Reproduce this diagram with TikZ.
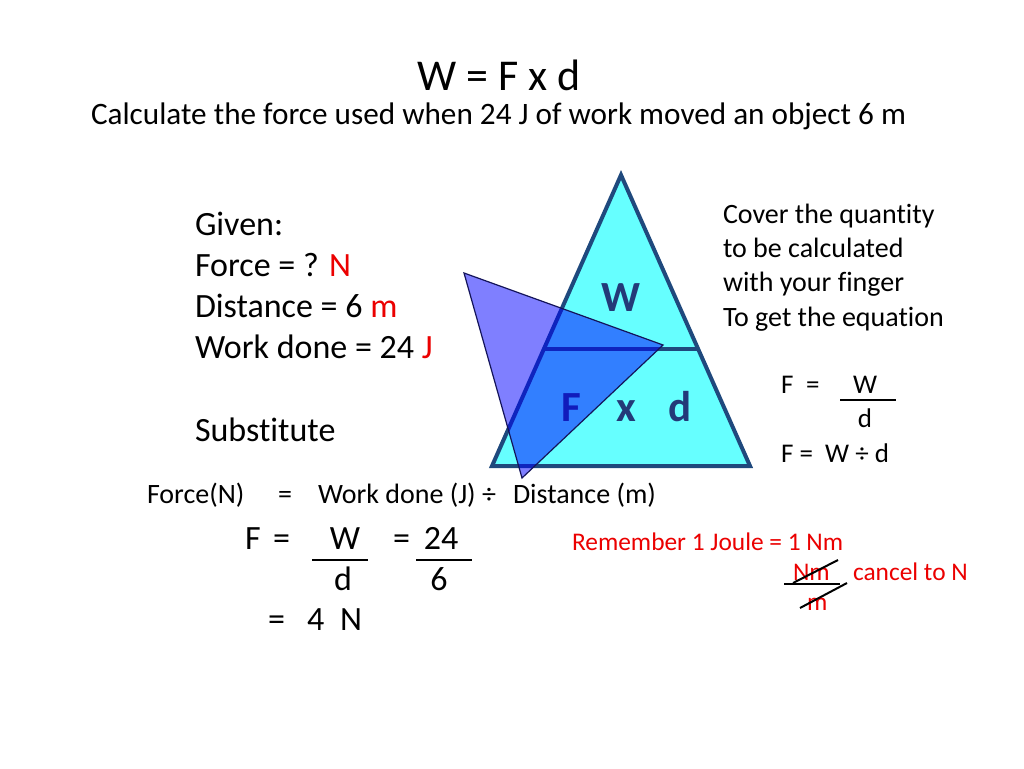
\documentclass[tikz,border=0pt]{standalone}
\usepackage{fontspec}
\setmainfont{Carlito}[Ligatures={NoCommon,NoContextual}]
\usetikzlibrary{calc}
\definecolor{tri}{RGB}{102,255,255}
\definecolor{edgec}{RGB}{31,73,125}
\definecolor{lett}{RGB}{35,58,120}
\definecolor{rd}{RGB}{235,0,0}
\definecolor{navyc}{RGB}{20,20,90}
\tikzset{
  txt/.style={inner sep=0pt, outer sep=0pt, anchor=base west},
  ctxt/.style={inner sep=0pt, outer sep=0pt, anchor=base},
  ttl/.style={ctxt, font=\fontsize{44}{52}\selectfont},
  sub/.style={txt, font=\fontsize{31.2}{38}\selectfont},
  big/.style={txt, font=\fontsize{34}{41}\selectfont},
  bigc/.style={ctxt, font=\fontsize{34}{41}\selectfont},
  mid/.style={txt, font=\fontsize{28}{34}\selectfont},
  sml/.style={txt, font=\fontsize{27}{32}\selectfont},
  smlc/.style={ctxt, font=\fontsize{27}{32}\selectfont},
  redt/.style={txt, text=rd, font=\fontsize{25.4}{31}\selectfont},
  letter/.style={ctxt, text=lett, font=\fontsize{43}{50}\selectfont\bfseries},
  frac/.style={line width=2pt, black},
}
\begin{document}
\begin{tikzpicture}[x=1pt,y=-1pt]
\useasboundingbox[fill=white] (0,0) rectangle (1024,768);

% titles
\node[ttl] (title) at (499,90) {W = F x d};
\node[sub] (subtitle) at (91,124) {Calculate the force used when 24 J of work moved an object 6 m};

% given block
\node[big] (given) at (195,235) {Given:};
\node[big] (gforce) at (195,276) {Force = ? \textcolor{rd}{N}};
\node[big] (gdist) at (195,317) {Distance = 6 \textcolor{rd}{m}};
\node[big] (gwork) at (195,358) {Work done = 24 \textcolor{rd}{J}};
\node[big] (subst) at (195,441) {Substitute};

% triangle
\coordinate (T) at (621,175);
\coordinate (BL) at (492,466);
\coordinate (BR) at (750,466);
\draw[edgec, line width=4pt, fill=tri] (T) -- (BL) -- (BR) -- cycle;
\coordinate (ML) at ($(T)!0.598!(BL)$);
\coordinate (MR) at ($(T)!0.598!(BR)$);
\draw[edgec, line width=4pt] (ML) -- (MR);
\node[letter] (lW) at (621,311) {W};
\node[letter] (lF) at (571,421) {F};
\node[letter] (lx) at (626,421) {x};
\node[letter] (ld) at (680,421) {d};

% overlay (finger)
\coordinate (P1) at (464,273);
\coordinate (P2) at (663,345);
\coordinate (P3) at (522,478);
\draw[navyc, line width=1.2pt, fill=blue, fill opacity=0.5] (P1) -- (P2) -- (P3) -- cycle;

% right explanation
\node[mid] (c1) at (723,223) {Cover the quantity};
\node[mid] (c2) at (723,257) {to be calculated};
\node[mid] (c3) at (723,291) {with your finger};
\node[mid] (c4) at (723,326) {To get the equation};

% right formula
\node[sml] (rF) at (781,393) {F};
\node[sml] (req) at (806,393) {=};
\node[smlc] (rW) at (865,393) {W};
\coordinate (rl1) at (840,400);
\coordinate (rl2) at (896,400);
\draw[frac] (rl1) -- (rl2);
\node[smlc] (rd) at (865,427) {d};
\node[sml] (rF2) at (781,462) {F =\ \ W ÷ d};

% force line
\node[mid] (fl1) at (147,503) {Force(N)};
\node[mid] (fl2) at (278,503) {=};
\node[mid] (fl3) at (318,503) {Work done (J) ÷};
\node[mid] (fl4) at (513,503) {Distance (m)};

% substitution
\node[big] (sF) at (245,549) {F};
\node[big] (seq1) at (273,549) {=};
\node[bigc] (sW) at (345,549) {W};
\node[big] (seq2) at (393,549) {=};
\node[bigc] (s24) at (441,549) {24};
\coordinate (sl1a) at (312,560);
\coordinate (sl1b) at (368,560);
\coordinate (sl2a) at (416,560);
\coordinate (sl2b) at (472,560);
\draw[frac] (sl1a) -- (sl1b);
\draw[frac] (sl2a) -- (sl2b);
\node[bigc] (sd) at (343,590) {d};
\node[bigc] (s6) at (439,590) {6};
\node[big] (seq3) at (268,630) {=};
\node[big] (s4) at (307,630) {4};
\node[big] (sN) at (340,630) {N};

% remember note
\node[redt] (rem) at (572,550) {Remember 1 Joule = 1 Nm};
\node[redt] (nm) at (793,580) {Nm};
\node[redt] (cancel) at (853,580) {cancel to N};
\node[redt] (mm) at (807,610) {m};
\coordinate (k1) at (784,584);
\coordinate (k2) at (840,584);
\coordinate (k3) at (793,583);
\coordinate (k4) at (838,560);
\coordinate (k5) at (800,608);
\coordinate (k6) at (847,583);
\draw[frac] (k1) -- (k2);
\draw[frac] (k3) -- (k4);
\draw[frac] (k5) -- (k6);
\end{tikzpicture}
\end{document}
